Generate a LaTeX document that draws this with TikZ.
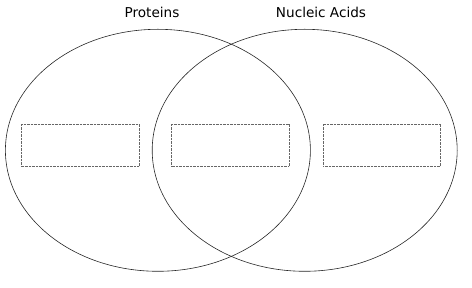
\documentclass[tikz,border=0pt]{standalone}
\usepackage{fontspec}
\setmainfont{DejaVu Sans}
\usetikzlibrary{shapes.geometric}
\begin{document}
\begin{tikzpicture}[x=1pt, y=1pt]
      \tikzstyle{set}=[ellipse, draw=black!85, line width=0.6pt, inner sep=0pt, minimum width=305, minimum height=242]
      \tikzstyle{slot}=[rectangle, draw=black!60, dash pattern=on 1pt off 0.4pt, line width=0.9pt, inner sep=0pt, minimum width=117.5, minimum height=42.5]
      \tikzstyle{title}=[anchor=base, font=\fontsize{13.6}{16}\selectfont]
      \useasboundingbox (0,0) rectangle (472,288);
      \node[set] (prot) at (157.9,137.7) {};
      \node[set] (nucl) at (304.7,137.7) {};
      \node[title] (protlabel) at (152,270) {Proteins};
      \node[title] (nucllabel) at (321,270) {Nucleic Acids};
      \node[slot] (onlyprot) at (80.5,142.7) {};
      \node[slot] (both) at (230.3,142.7) {};
      \node[slot] (onlynucl) at (382,142.7) {};
    \end{tikzpicture}
\end{document}
